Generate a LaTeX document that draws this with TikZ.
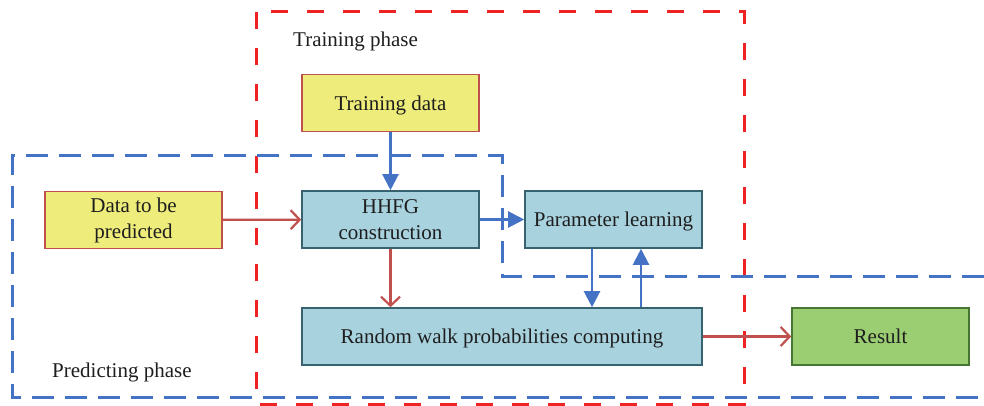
\documentclass[tikz,border=0pt]{standalone}
\usepackage{fontspec}
\setmainfont{Liberation Serif}
\usetikzlibrary{arrows.meta}
\definecolor{yfill}{RGB}{238,236,122}
\definecolor{bfill}{RGB}{168,210,222}
\definecolor{gfill}{RGB}{155,206,115}
\definecolor{rdraw}{RGB}{192,80,77}
\definecolor{bdraw}{RGB}{55,98,112}
\definecolor{gdraw}{RGB}{70,118,50}
\definecolor{rdash}{RGB}{238,36,36}
\definecolor{bline}{RGB}{68,114,196}
\definecolor{txt}{RGB}{30,30,30}
\tikzset{
  box/.style = {rectangle, align=center, inner sep=0pt, line width=1.6pt, text=txt,
                minimum width=177pt, minimum height=57pt},
  one_line/.style = {text height=18.5pt, text depth=4pt},
  box_y/.style = {box, fill=yfill, draw=rdraw},
  box_b/.style = {box, fill=bfill, draw=bdraw},
  box_g/.style = {box, fill=gfill, draw=gdraw},
  line_r/.style = {draw=rdraw, line width=2.2pt,
                   -{Straight Barb[length=9pt,width=19pt,line width=2.2pt]}},
  line_b/.style = {draw=bline, line width=2.2pt, -{Triangle[length=16pt,width=16pt]}},
}

\begin{document}
\begin{tikzpicture}[
    x=1pt, y=-1pt,
    font=\fontsize{21}{26}\selectfont
]
  \useasboundingbox (0,0) rectangle (984,406);
  % phases
  \draw [rdash, line width=3pt, dash pattern=on 17pt off 19pt] (256,12) rectangle (744,404);
  \draw [bline, line width=3pt, dash pattern=on 22pt off 11pt]
    (984,276) -- (502,276) -- (502,156) -- (12,156) -- (12,397) -- (984,397);
  \node [anchor=base west, inner sep=0pt, text=txt] (tphase) at (293,47) {Training phase};
  \node [anchor=base west, inner sep=0pt, text=txt] (pphase) at (52,377) {Predicting phase};
  % boxes
  \node [box_y, one_line] (train) at (390.5,103) {Training data};
  \node [box_y] (pred) at (133.5,220) {Data to be\\predicted};
  \node [box_b] (hhfg) at (390.5,219.5) {HHFG\\construction};
  \node [box_b, one_line] (param) at (613.5,219.5) {Parameter learning};
  \node [box_b, one_line, minimum width=400pt] (walk) at (502,336.5) {Random walk probabilities computing};
  \node [box_g, one_line] (result) at (880.5,336.5) {Result};
  % links
  \draw [line_b] (train) -- (hhfg);
  \draw [line_r] (pred) -- (hhfg);
  \draw [line_b] (hhfg) -- (param);
  \draw [line_r] (hhfg) -- (hhfg |- walk.north);
  \draw [line_b] ([xshift=-21.5pt]param.south) -- ([xshift=-21.5pt]param.south |- walk.north);
  \draw [line_b] ([xshift=27.5pt]param.south |- walk.north) -- ([xshift=27.5pt]param.south);
  \draw [line_r] (walk) -- (result);
\end{tikzpicture}
\end{document}
